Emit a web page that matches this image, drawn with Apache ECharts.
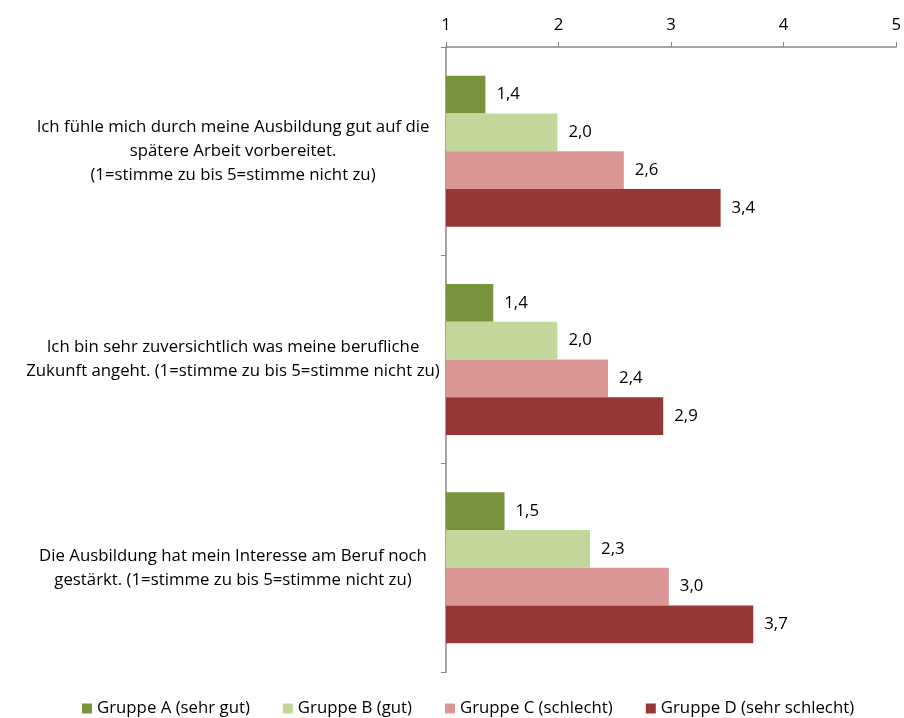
<!DOCTYPE html>
<html>
<head>
<meta charset="utf-8">
<script src="https://cdn.jsdelivr.net/npm/echarts@6/dist/echarts.min.js"></script>
<style>html,body{margin:0;padding:0;background:#fff;}#c{width:904px;height:718px;}</style>
</head>
<body>
<div id="c"></div>
<script>
const categories = [
  "Ich fühle mich durch meine Ausbildung gut auf die\nspätere Arbeit vorbereitet.\n(1=stimme zu bis 5=stimme nicht zu)",
  "Ich bin sehr zuversichtlich was meine berufliche\nZukunft angeht. (1=stimme zu bis 5=stimme nicht zu)",
  "Die Ausbildung hat mein Interesse am Beruf noch\ngestärkt. (1=stimme zu bis 5=stimme nicht zu)"
];
const seriesNames = ["Gruppe A (sehr gut)", "Gruppe B (gut)", "Gruppe C (schlecht)", "Gruppe D (sehr schlecht)"];
const groupA = [1.35, 1.42, 1.52];
const groupB = [1.99, 1.99, 2.28];
const groupC = [2.58, 2.44, 2.98];
const groupD = [3.44, 2.93, 3.73];
const xTicks = [1, 2, 3, 4, 5];
const colors = ["#77933C", "#C4D79B", "#D99694", "#953735"];

const FONT = "Open Sans";
const FS = 16.8;
const chart = echarts.init(document.getElementById('c'), null, {renderer: 'canvas'});
const values = [groupA, groupB, groupC, groupD];
chart.setOption({
  animation: false,
  textStyle: {fontFamily: FONT},
  grid: {left: 446, right: 6, top: 47, bottom: 46, containLabel: false},
  legend: {
    left: 82, top: 700, padding: 0,
    itemWidth: 10, itemHeight: 10, itemGap: 33,
    icon: 'rect',
    textStyle: {fontFamily: FONT, fontSize: FS, color: '#000'},
    data: seriesNames
  },
  xAxis: {
    type: 'value', position: 'top',
    min: xTicks[0], max: xTicks[xTicks.length - 1], interval: 1,
    axisLine: {show: true, lineStyle: {color: '#868686', width: 1.5}},
    axisTick: {show: true, inside: false, length: 5, lineStyle: {color: '#868686'}},
    splitLine: {show: false},
    axisLabel: {margin: 13, fontFamily: FONT, fontSize: FS, color: '#000'}
  },
  yAxis: {
    type: 'category', inverse: true, data: categories,
    axisLine: {show: true, lineStyle: {color: '#868686', width: 1.5}},
    axisTick: {show: true, inside: false, length: 5, alignWithLabel: false, lineStyle: {color: '#868686'}},
    axisLabel: {margin: 213, align: 'center', fontFamily: FONT, fontSize: FS, lineHeight: 24, color: '#000'}
  },
  series: seriesNames.map((n, i) => ({
    name: n, type: 'bar', data: values[i],
    barGap: '0%', barCategoryGap: '27.5%',
    itemStyle: {color: colors[i]},
    label: {
      show: true, position: 'right', distance: 11,
      fontFamily: FONT, fontSize: FS, color: '#000',
      formatter: p => p.value.toFixed(1).replace('.', ',')
    }
  }))
});
</script>
</body>
</html>
